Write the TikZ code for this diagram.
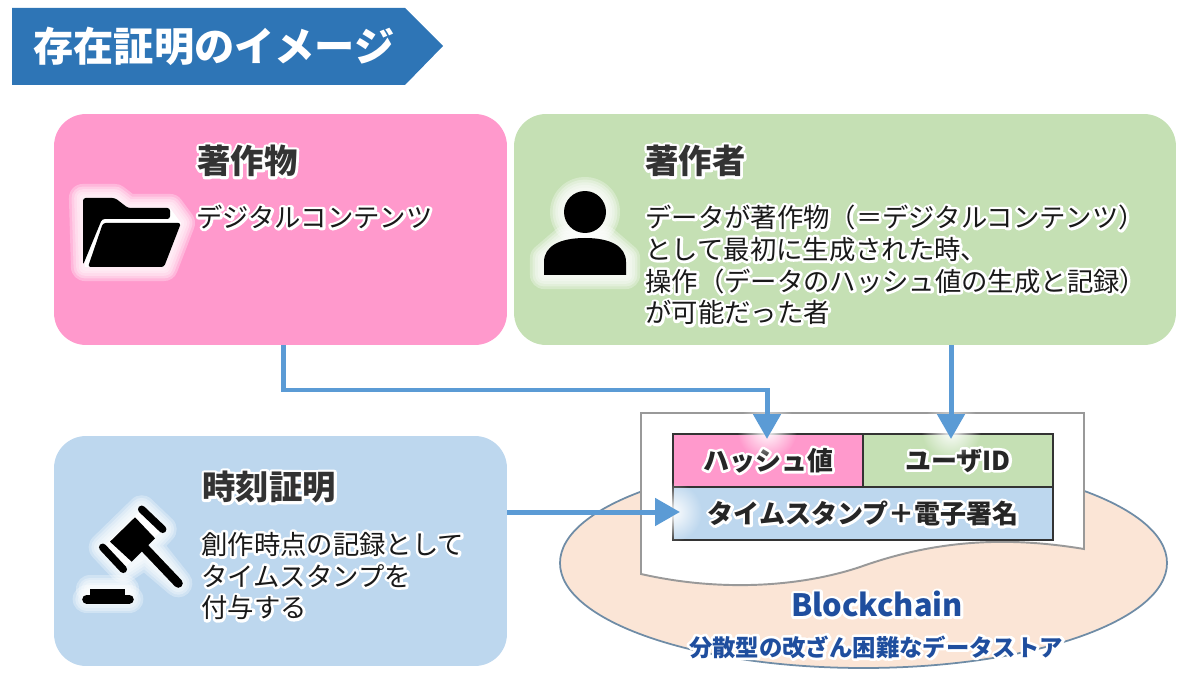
\documentclass[tikz,border=0pt]{standalone}
\usepackage{fontspec}
\usetikzlibrary{arrows.meta,fadings}
\setmainfont{Noto Sans CJK JP}
\definecolor{titleblue}{HTML}{2E75B6}
\definecolor{flowblue}{HTML}{5B9BD5}
\definecolor{pinkfill}{HTML}{FF99CC}
\definecolor{greenfill}{HTML}{C5E0B4}
\definecolor{bluefill}{HTML}{BDD7EE}
\definecolor{chainfill}{HTML}{FBE5D6}
\definecolor{chainline}{HTML}{6F8CA6}
\definecolor{chaintext}{HTML}{1F4E9E}
% white outline behind a line of text
\newcommand{\glow}[1]{\leavevmode\rlap{\special{pdf:code q 1 Tr 3 w 1 j 1 1 1 RG}#1\special{pdf:code Q}}#1}
\tikzfading[name=softspot,inner color=transparent!0,outer color=transparent!100]
\tikzset{
  panel/.style={rounded corners=0.64cm,inner sep=0pt},
  cell/.style={draw=black!80,line width=1pt,inner sep=0pt,minimum height=1.06cm,text=black!85,font=\fontsize{14.8}{18}\selectfont\bfseries},
  heading/.style={anchor=west,inner sep=0pt,text=black!80,font=\fontsize{19}{22}\selectfont\bfseries},
  bodytext/.style={anchor=west,inner sep=0pt,align=left,text=black!90,font=\fontsize{15}{18.1}\selectfont},
  flowarrow/.style={draw=flowblue,line width=0.1cm,-{Triangle[length=0.5cm,width=0.54cm]}},
  iconglow/.style={white,opacity=0.3,line join=round,line cap=round},
  tipglow/.style={white,path fading=softspot}
}
\begin{document}
\begin{tikzpicture}[x=0.02cm,y=-0.02cm]
  \useasboundingbox (0,0) rectangle (1200,692);

  % title
  \fill[titleblue] (12,8) -- (405,8) -- (443,46) -- (405,85) -- (12,85) -- cycle;
  \node[anchor=west,inner sep=0pt,text=white,font=\fontsize{22.9}{26}\selectfont\bfseries] (title) at (33,46) {存在証明のイメージ};

  % panels
  \node[panel,fill=pinkfill,minimum width=9.06cm,minimum height=4.62cm] (workbox) at (280.5,229.5) {};
  \node[panel,fill=greenfill,minimum width=13.24cm,minimum height=4.62cm] (authorbox) at (845,229.5) {};
  \node[panel,fill=bluefill,minimum width=9.06cm,minimum height=4.6cm] (timebox) at (280.5,551) {};

  \node[heading] (workhead) at (197,161) {\glow{著作物}};
  \node[bodytext] (worktext) at (196,217) {\glow{デジタルコンテンツ}};
  \node[heading] (authorhead) at (645,161) {\glow{著作者}};
  \node[bodytext] (authortext) at (645,265) {\glow{データが著作物（＝デジタルコンテンツ）}\\\glow{として最初に生成された時、}\\\glow{操作（データのハッシュ値の生成と記録）}\\\glow{が可能だった者}};
  \node[heading] (timehead) at (202,487) {\glow{時刻証明}};
  \node[bodytext] (timetext) at (201,576) {\glow{創作時点の記録として}\\\glow{タイムスタンプを}\\\glow{付与する}};

  % folder icon
  \foreach \w in {16,13,10,7,4}{
    \draw[iconglow,line width=\w pt] (83,198) -- (115,198) -- (128,208) -- (170,208) -- (181,223) -- (164,267) -- (85,267) -- cycle;
  }
  \fill[white] (83,198) -- (115,198) -- (128,208) -- (170,208) -- (181,223) -- (164,267) -- (85,267) -- cycle;
  \fill[black,rounded corners=1.5pt] (83,198) -- (115,198) -- (128,208) -- (170,208) -- (170,219) -- (102,219) -- (83,265) -- cycle;
  \fill[black,rounded corners=1.5pt] (103,223) -- (181,223) -- (164,267) -- (88,267) -- cycle;

  % person icon
  \foreach \w in {16,13,10,7,4}{
    \draw[iconglow,line width=\w pt] (585,212) circle (0.42cm);
    \draw[iconglow,line width=\w pt] (544,275) -- (544,258) -- (565,240) -- (605,240) -- (626,258) -- (626,275) -- cycle;
  }
  \fill[black] (585,212) circle (0.42cm);
  \fill[black] (544,275) -- (544,262) .. controls (544,246) and (560,238) .. (585,238) .. controls (610,238) and (626,246) .. (626,262) -- (626,275) -- cycle;

  % gavel icon
  \foreach \w in {16,13,10,7,4}{
    \draw[iconglow,line width=\w pt] (141.7,509.3) -- (162.7,529.3) -- (148,545) -- (178.3,583.3) -- (145,555) -- (123.3,569.3) -- (102.7,547.3) -- cycle;
    \draw[iconglow,line width=\w pt] (86.7,599.3) -- (129.3,599.3);
    \draw[iconglow,line width=\w pt] (90,589) -- (125,589);
  }
  \fill[white] (141.7,509.3) -- (162.7,529.3) -- (123.3,569.3) -- (102.7,547.3) -- cycle;
  \draw[black,line width=0.15cm,line cap=round] (141.7,509.3) -- (162.7,529.3);
  \draw[black,line width=0.15cm,line cap=round] (102.7,547.3) -- (123.3,569.3);
  \fill[black] (110,541.7) -- (135,517.3) -- (155,538.3) -- (131.7,561.7) -- cycle;
  \draw[black,line width=0.18cm,line cap=round] (145,548.3) -- (178.3,583.3);
  \draw[black,line width=0.18cm,line cap=round] (86.7,599.3) -- (129.3,599.3);
  \fill[black] (90,589) rectangle (125,597);

  % blockchain
  \draw[draw=chainline,fill=chainfill,line width=1pt] (863.5,563) ellipse (303.5 and 105);
  \draw[draw=black!40,fill=white,line width=1.1pt] (641,413) -- (1084,413) -- (1084,549)
    .. controls (1000,535) and (930,542) .. (860,567)
    .. controls (800,587) and (720,592) .. (641,574) -- cycle;

  % record table
  \node[cell,fill=pinkfill,minimum width=3.8cm] (hashcell) at (768,460.5) {\glow{ハッシュ値}};
  \node[cell,fill=greenfill,minimum width=3.8cm] (useridcell) at (958,460.5) {\glow{ユーザID}};
  \node[cell,fill=bluefill,minimum width=7.6cm] (stampcell) at (863,513.5) {\glow{タイムスタンプ＋電子署名}};

  \node[inner sep=0pt,text=chaintext,font=\fontsize{17.5}{20}\selectfont\bfseries] (chainname) at (877,604) {\glow{Blockchain}};
  \node[inner sep=0pt,text=chaintext,font=\fontsize{13.3}{16}\selectfont\bfseries] (chaintag) at (876,647) {\glow{分散型の改ざん困難なデータストア}};

  % soft spots under the arrow tips
  \fill[tipglow] (767,430) circle (30);
  \fill[tipglow] (951,430) circle (30);
  \fill[tipglow] (672,512) circle (30);

  % connectors
  \coordinate (hashin) at (767,439);
  \coordinate (userin) at (951,439);
  \coordinate (stampin) at (680,512);
  \coordinate (workout) at (283,345);
  \draw[flowarrow] (workout) |- (767,390) -- (hashin);
  \draw[flowarrow] (authorbox.south -| userin) -- (userin);
  \draw[flowarrow] (timebox.east |- stampin) -- (stampin);
\end{tikzpicture}
\end{document}
